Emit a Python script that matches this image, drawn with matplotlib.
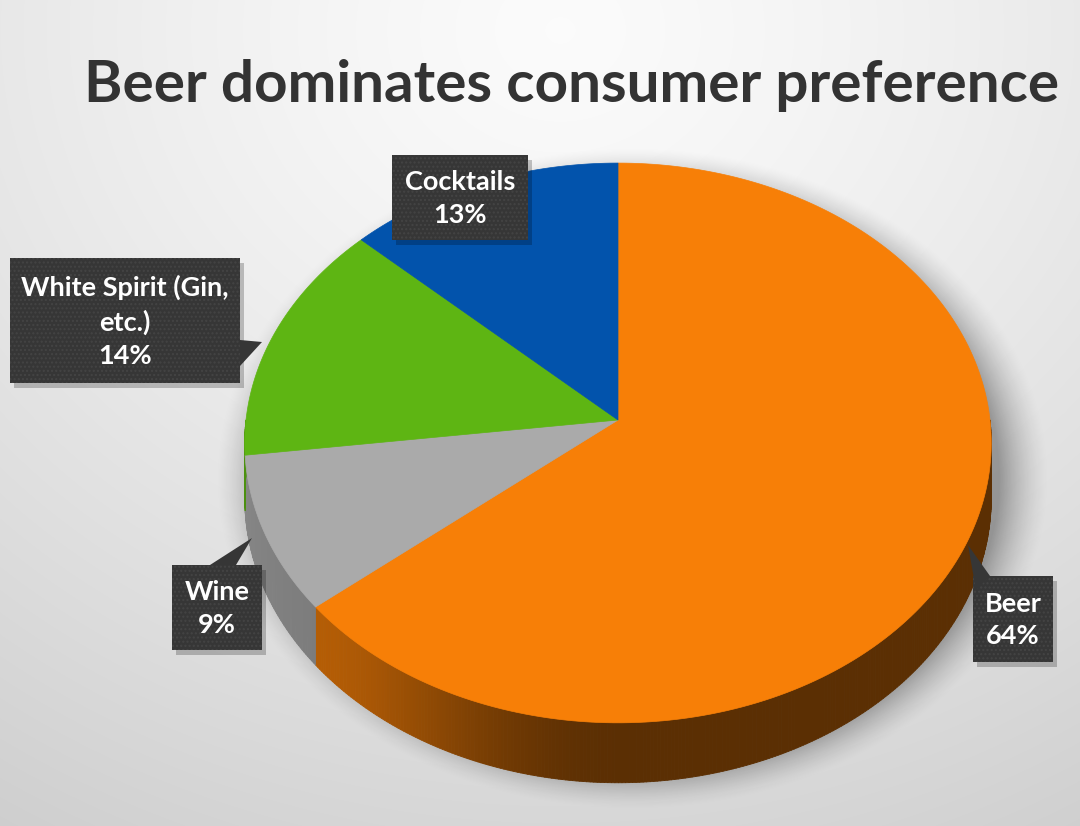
import matplotlib
matplotlib.use('Agg')
import matplotlib.pyplot as plt
import numpy as np
from matplotlib.patches import Polygon, Rectangle
from matplotlib.collections import PolyCollection
from matplotlib.colors import to_rgb

# data
categories = ['Beer', 'Wine', 'White Spirit (Gin,\netc.)', 'Cocktails']
shares = [64, 9, 14, 13]
top_colors = ['#f77f07', '#aaaaaa', '#5eb513', '#0253ac']
title = 'Beer dominates consumer preference'

# pie geometry in pixel space
cx, cy = 618, 420
rx, ry = 372, 278
persp = -0.082
depth = 55

plt.rcParams['font.family'] = ['Lato', 'DejaVu Sans']


def proj(theta, dz=0.0):
    t = np.radians(theta)
    u, v = np.sin(t), -np.cos(t)
    s = 1.0 / (1.0 + persp * v)
    return cx + rx * u * s, cy + ry * v * s + dz * s


def shade(theta):
    a = np.clip((theta - 180) / 50.0, 0, 1)
    a = a * a * (3 - 2 * a)
    return 0.37 + 0.36 * a + 0.08 * np.clip((theta - 230) / 40.0, 0, 1)


fig = plt.figure(figsize=(10.8, 8.26), dpi=100)
ax = fig.add_axes([0, 0, 1, 1])
ax.set_xlim(0, 1080)
ax.set_ylim(826, 0)
ax.axis('off')

# background gradient
yy, xx = np.mgrid[0:826, 0:1080]
r = np.hypot(xx - 560, (yy - 30) * 1.15) / 1000.0
val = 0.985 - 0.16 * np.clip(r, 0, 1.2) ** 1.3
bg = np.dstack([val, val, val])
ax.imshow(bg, extent=[0, 1080, 826, 0], zorder=0, aspect='auto')

# soft shadow under the pie
d = np.hypot((xx - 632) / (rx + 18), (yy - 478) / (ry + 32))
alpha = 0.34 * np.clip((1.07 - d) / 0.13, 0, 1) ** 1.5
sh = np.zeros((826, 1080, 4))
sh[..., 3] = alpha
ax.imshow(sh, extent=[0, 1080, 826, 0], zorder=1, aspect='auto')

bounds = np.concatenate([[0], np.cumsum(shares)]) / sum(shares) * 360.0

# side walls (front half only)
quads, qcols = [], []
for i in range(len(shares)):
    a0, a1 = max(bounds[i], 90), min(bounds[i + 1], 270)
    if a1 <= a0:
        continue
    ts = np.linspace(a0, a1, int((a1 - a0) / 0.5) + 2)
    base = np.array(to_rgb(top_colors[i]))
    for t0, t1 in zip(ts[:-1], ts[1:]):
        p0, p1 = proj(t0), proj(t1)
        q0, q1 = proj(t0, depth), proj(t1, depth)
        quads.append([p0, p1, q1, q0])
        qcols.append(np.clip(base * shade((t0 + t1) / 2), 0, 1))
ax.add_collection(PolyCollection(quads, facecolors=qcols, edgecolors=qcols,
                                 linewidths=0.6, zorder=2))

# top faces
for i in range(len(shares)):
    ts = np.linspace(bounds[i], bounds[i + 1], 200)
    xs, ys = proj(ts)
    pts = np.column_stack([np.r_[cx, xs], np.r_[cy, ys]])
    ax.add_patch(Polygon(pts, closed=True, fc=top_colors[i], ec=top_colors[i],
                         lw=0.5, zorder=3))

# label boxes: (x0, y0, w, h), pointer tip, pointer base
boxes = [
    ((973, 576, 80, 86), (968, 545), [(976, 590), (990, 576)]),
    ((172, 565, 90, 85), (252, 538), [(210, 565), (236, 565)]),
    ((10, 258, 230, 125), (262, 342), [(240, 340), (240, 366)]),
    ((392, 155, 136, 85), None, None),
]
label_text = [f'{c}\n{s}%' for c, s in zip(categories, shares)]

for (bx, tip, base), txt in zip(boxes, label_text):
    x0, y0, w, h = bx
    ax.add_patch(Rectangle((x0 + 4, y0 + 5), w, h, fc='black', alpha=0.22,
                           lw=0, zorder=5))
    ax.add_patch(Rectangle((x0, y0), w, h, fc='#363636', ec='#444444',
                           hatch='....', lw=0, zorder=6))
    if tip is not None:
        ax.add_patch(Polygon([base[0], tip, base[1]], closed=True,
                             fc='#363636', ec='none', zorder=6))
    ax.text(x0 + w / 2, y0 + h / 2 + 1, txt, ha='center', va='center',
            color='white', fontsize=19.5, fontweight='bold', linespacing=1.45,
            zorder=7)

# title, fitted to the reference width
t = ax.text(572, 102, title, ha='center', va='baseline', fontsize=44,
            fontweight='bold', color='#333333', zorder=8)
fig.canvas.draw()
wpx = t.get_window_extent().width
t.set_fontsize(44 * 975.0 / wpx)

fig.savefig('out.png', dpi=100)
